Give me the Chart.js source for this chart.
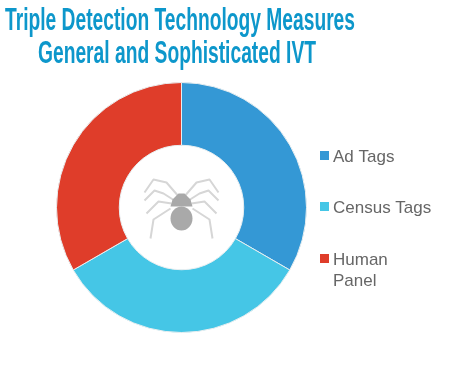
<!DOCTYPE html>
<html>
<head>
<meta charset="utf-8">
<style>
  html, body { margin: 0; padding: 0; background: #fff; }
  canvas { display: block; }
</style>
<script src="https://cdn.jsdelivr.net/npm/chart.js@4/dist/chart.umd.min.js"></script>
</head>
<body>
<canvas id="myChart" width="460" height="383"></canvas>
<script>
"use strict";

const titleLines = ["Triple Detection Technology Measures", "General and Sophisticated IVT"];
const categories = ["Ad Tags", "Census Tags", "Human Panel"];
const legendLines = [["Ad Tags"], ["Census Tags"], ["Human", "Panel"]];
const shares = [33.3, 33.3, 33.3];
const sliceColors = ["#3498d5", "#45c6e6", "#df3d2a"];

// title is a stretched narrow face in the picture
const titlePlugin = {
  id: "stretchedTitle",
  afterDraw(chart) {
    const ctx = chart.ctx;
    const widths = [350, 278];
    const baselines = [30, 63];
    ctx.save();
    ctx.fillStyle = "#0d97cb";
    ctx.textAlign = "left";
    ctx.textBaseline = "alphabetic";
    ctx.font = 'bold 31px "Liberation Sans Narrow", "Liberation Sans"';
    titleLines.forEach((line, i) => {
      const scale = widths[i] / ctx.measureText(line).width;
      ctx.save();
      ctx.translate(i === 0 ? 5 : 38, baselines[i]);
      ctx.scale(scale, 1);
      ctx.fillText(line, 0, 0);
      ctx.restore();
    });
    ctx.restore();
  },
};

const legendPlugin = {
  id: "sideLegend",
  afterDraw(chart) {
    const ctx = chart.ctx;
    const tops = [157, 208, 260];
    ctx.save();
    ctx.font = '17px "Liberation Sans"';
    ctx.textBaseline = "middle";
    ctx.textAlign = "left";
    legendLines.forEach((lines, i) => {
      ctx.fillStyle = sliceColors[i];
      ctx.fillRect(320, tops[i] - 6, 9, 9);
      ctx.fillStyle = "#666666";
      lines.forEach((line, j) => ctx.fillText(line, 333, tops[i] + j * 21));
    });
    ctx.restore();
  },
};

// little spider in the hole, legs are given for the right side and mirrored
const spiderLegs = [
  [[2, -10], [15, -25], [28, -28], [37, -15]],
  [[7, -7], [18, -14], [27, -17], [37, -7]],
  [[10, -4], [23, -6], [35, 6]],
  [[11, 1], [28, 12], [31, 31]],
];

const spiderPlugin = {
  id: "spider",
  afterDraw(chart) {
    const ctx = chart.ctx;
    const meta = chart.getDatasetMeta(0).data[0];
    const cx = meta.x;
    const cy = meta.y;
    ctx.save();
    ctx.strokeStyle = "#d6d6d6";
    ctx.lineWidth = 2;
    ctx.lineJoin = "round";
    [1, -1].forEach((side) => {
      spiderLegs.forEach((leg) => {
        ctx.beginPath();
        leg.forEach((p, i) => {
          const x = cx + side * p[0];
          const y = cy + p[1];
          if (i === 0) ctx.moveTo(x, y);
          else ctx.lineTo(x, y);
        });
        ctx.stroke();
      });
    });
    ctx.fillStyle = "#a9a9a9";
    // head
    ctx.beginPath();
    ctx.moveTo(cx - 3, cy - 14);
    ctx.lineTo(cx + 3, cy - 14);
    ctx.lineTo(cx + 9, cy - 8);
    ctx.lineTo(cx + 11, cy - 1);
    ctx.lineTo(cx - 11, cy - 1);
    ctx.lineTo(cx - 9, cy - 8);
    ctx.closePath();
    ctx.fill();
    // abdomen
    ctx.beginPath();
    ctx.ellipse(cx, cy + 11, 11, 12, 0, 0, Math.PI * 2);
    ctx.fill();
    ctx.restore();
  },
};

const ctx = document.getElementById("myChart").getContext("2d");
const myChart = new Chart(ctx, {
  type: "doughnut",
  data: {
    labels: categories,
    datasets: [
      {
        data: shares,
        backgroundColor: sliceColors,
        borderColor: "#e8eef0",
        borderWidth: 1,
      },
    ],
  },
  options: {
    responsive: false,
    animation: false,
    radius: 125,
    cutout: 62,
    layout: {
      padding: { left: 56.5, top: 82.5, right: 153.5, bottom: 50.5 },
    },
    plugins: {
      legend: { display: false },
      title: { display: false },
      tooltip: { enabled: false },
    },
  },
  plugins: [titlePlugin, legendPlugin, spiderPlugin],
});
</script>
</body>
</html>
